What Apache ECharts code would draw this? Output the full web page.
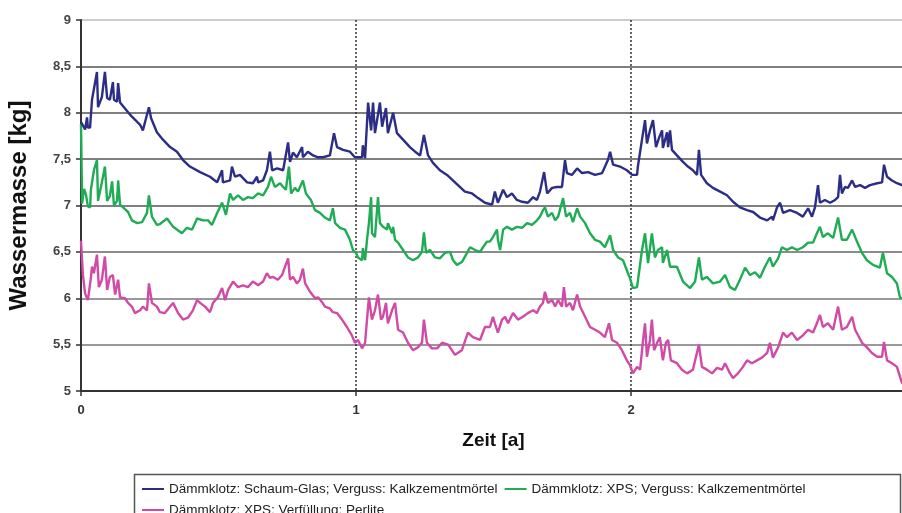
<!DOCTYPE html>
<html>
<head>
<meta charset="utf-8">
<script src="https://cdn.jsdelivr.net/npm/echarts@6/dist/echarts.min.js"></script>
<style>
  html, body { margin: 0; padding: 0; background: #ffffff; }
  #chart { width: 902px; height: 513px; }
</style>
</head>
<body>
<div id="chart"></div>
<script>
// Water mass [kg] over time [years] for three insulation block variants.
const seriesNames = [
  'Dämmklotz: Schaum-Glas; Verguss: Kalkzementmörtel',
  'Dämmklotz: XPS; Verguss: Kalkzementmörtel',
  'Dämmklotz: XPS; Verfüllung: Perlite'
];

// [time in years, water mass in kg]
const schaumGlas = [
  [0,7.90],[0.004,7.89],[0.015,7.82],[0.022,7.95],[0.025,7.84],[0.033,7.84],[0.04,8.14],[0.058,8.44],
  [0.062,8.06],[0.076,8.17],[0.087,8.44],[0.095,8.16],[0.105,8.14],[0.116,8.33],[0.12,8.14],[0.131,8.12],
  [0.135,8.32],[0.142,8.11],[0.178,7.98],[0.215,7.87],[0.225,7.81],[0.247,8.06],[0.255,7.94],[0.276,7.79],
  [0.298,7.71],[0.324,7.63],[0.349,7.58],[0.371,7.49],[0.396,7.42],[0.433,7.36],[0.469,7.31],[0.495,7.25],
  [0.513,7.38],[0.516,7.25],[0.542,7.27],[0.549,7.42],[0.56,7.31],[0.578,7.33],[0.604,7.25],[0.625,7.24],
  [0.64,7.31],[0.644,7.25],[0.662,7.27],[0.676,7.38],[0.687,7.58],[0.695,7.38],[0.713,7.40],[0.735,7.38],
  [0.753,7.68],[0.76,7.47],[0.771,7.57],[0.785,7.52],[0.804,7.63],[0.807,7.52],[0.825,7.58],[0.844,7.54],
  [0.862,7.52],[0.88,7.52],[0.905,7.54],[0.92,7.78],[0.931,7.63],[0.953,7.60],[0.978,7.58],[0.996,7.52],
  [1.022,7.52],[1.025,7.65],[1.033,7.51],[1.04,7.89],[1.044,8.11],[1.055,7.81],[1.062,8.11],[1.069,7.78],
  [1.087,8.11],[1.095,7.85],[1.109,8.05],[1.116,7.78],[1.135,8.00],[1.149,7.78],[1.171,7.71],[1.196,7.63],
  [1.215,7.58],[1.233,7.54],[1.247,7.76],[1.262,7.54],[1.28,7.46],[1.305,7.38],[1.331,7.33],[1.36,7.25],
  [1.396,7.15],[1.422,7.13],[1.444,7.08],[1.469,7.03],[1.495,7.01],[1.505,7.15],[1.516,7.03],[1.535,7.17],
  [1.549,7.09],[1.567,7.13],[1.585,7.06],[1.604,7.04],[1.625,7.03],[1.644,7.09],[1.658,7.06],[1.669,7.15],
  [1.684,7.36],[1.695,7.13],[1.713,7.19],[1.731,7.20],[1.749,7.20],[1.76,7.49],[1.767,7.35],[1.785,7.33],
  [1.804,7.40],[1.822,7.35],[1.844,7.36],[1.869,7.33],[1.895,7.35],[1.916,7.49],[1.924,7.58],[1.935,7.44],
  [1.96,7.42],[1.985,7.38],[2.004,7.33],[2.022,7.33],[2.025,7.42],[2.04,7.71],[2.051,7.92],[2.058,7.67],
  [2.069,7.81],[2.08,7.92],[2.091,7.63],[2.102,7.73],[2.113,7.81],[2.116,7.62],[2.131,7.79],[2.135,7.63],
  [2.142,7.81],[2.149,7.60],[2.167,7.54],[2.189,7.47],[2.207,7.42],[2.225,7.38],[2.24,7.33],[2.247,7.60],
  [2.255,7.33],[2.276,7.24],[2.298,7.19],[2.324,7.15],[2.349,7.11],[2.371,7.04],[2.396,6.98],[2.422,6.95],
  [2.444,6.93],[2.469,6.87],[2.495,6.84],[2.513,6.88],[2.516,6.84],[2.531,6.98],[2.542,7.03],[2.553,6.92],
  [2.578,6.95],[2.604,6.92],[2.625,6.88],[2.644,6.97],[2.658,6.88],[2.669,6.98],[2.68,7.22],[2.687,7.03],
  [2.705,7.06],[2.724,7.03],[2.742,7.06],[2.753,7.09],[2.76,7.33],[2.767,7.13],[2.778,7.20],[2.789,7.19],
  [2.804,7.27],[2.815,7.20],[2.833,7.22],[2.851,7.19],[2.869,7.22],[2.895,7.24],[2.913,7.25],[2.92,7.44],
  [2.931,7.31],[2.949,7.27],[2.967,7.24],[2.985,7.22],[3.0,7.21]
];

const xpsVerguss = [
  [0,7.88],[0.004,7.02],[0.011,7.18],[0.018,7.12],[0.025,6.99],[0.033,6.98],[0.036,7.17],[0.047,7.38],
  [0.058,7.49],[0.062,7.05],[0.069,7.06],[0.076,7.25],[0.087,7.42],[0.095,7.05],[0.105,7.10],[0.113,7.26],
  [0.12,7.00],[0.131,7.05],[0.135,7.27],[0.142,7.01],[0.16,6.96],[0.171,6.93],[0.185,6.84],[0.204,6.81],
  [0.222,6.82],[0.24,6.92],[0.247,7.11],[0.258,6.88],[0.276,6.79],[0.287,6.80],[0.313,6.86],[0.335,6.77],
  [0.367,6.70],[0.385,6.76],[0.404,6.74],[0.422,6.86],[0.444,6.84],[0.462,6.84],[0.476,6.79],[0.495,6.92],
  [0.513,7.03],[0.527,6.90],[0.542,7.13],[0.553,7.06],[0.571,7.11],[0.589,7.06],[0.607,7.09],[0.625,7.08],
  [0.644,7.13],[0.662,7.11],[0.68,7.20],[0.691,7.31],[0.705,7.20],[0.724,7.24],[0.735,7.20],[0.745,7.17],
  [0.756,7.42],[0.764,7.13],[0.778,7.19],[0.789,7.15],[0.807,7.27],[0.818,7.13],[0.836,7.06],[0.851,6.95],
  [0.869,6.92],[0.887,6.87],[0.905,6.84],[0.916,6.97],[0.924,6.81],[0.942,6.76],[0.96,6.74],[0.978,6.63],
  [0.989,6.52],[1.0,6.49],[1.007,6.44],[1.022,6.41],[1.025,6.54],[1.033,6.41],[1.04,6.63],[1.047,6.81],
  [1.055,7.09],[1.058,6.70],[1.069,6.66],[1.08,7.09],[1.087,6.81],[1.098,6.77],[1.113,6.74],[1.116,6.81],
  [1.131,6.70],[1.135,6.77],[1.142,6.63],[1.153,6.60],[1.171,6.52],[1.189,6.44],[1.207,6.41],[1.225,6.44],
  [1.24,6.50],[1.247,6.71],[1.255,6.49],[1.269,6.52],[1.287,6.44],[1.305,6.43],[1.324,6.49],[1.342,6.50],
  [1.353,6.41],[1.367,6.36],[1.385,6.39],[1.404,6.49],[1.415,6.55],[1.433,6.52],[1.451,6.50],[1.462,6.55],
  [1.476,6.61],[1.487,6.61],[1.498,6.66],[1.513,6.74],[1.516,6.63],[1.524,6.52],[1.535,6.74],[1.549,6.77],
  [1.567,6.74],[1.585,6.77],[1.604,6.76],[1.622,6.81],[1.64,6.79],[1.658,6.84],[1.669,6.88],[1.68,6.95],
  [1.687,6.98],[1.698,6.88],[1.713,6.92],[1.724,6.84],[1.735,6.88],[1.753,7.08],[1.764,6.88],[1.778,6.92],
  [1.789,6.82],[1.804,6.97],[1.815,6.88],[1.833,6.81],[1.851,6.70],[1.869,6.63],[1.887,6.61],[1.905,6.55],
  [1.924,6.68],[1.935,6.52],[1.953,6.44],[1.971,6.41],[1.989,6.27],[1.996,6.22],[2.007,6.11],[2.022,6.12],
  [2.025,6.14],[2.04,6.52],[2.051,6.70],[2.062,6.38],[2.076,6.70],[2.087,6.44],[2.098,6.52],[2.113,6.55],
  [2.116,6.38],[2.131,6.52],[2.142,6.34],[2.167,6.34],[2.189,6.18],[2.215,6.11],[2.233,6.18],[2.247,6.44],
  [2.258,6.20],[2.276,6.23],[2.298,6.16],[2.324,6.18],[2.342,6.25],[2.36,6.12],[2.378,6.09],[2.396,6.20],
  [2.415,6.33],[2.433,6.25],[2.451,6.28],[2.469,6.22],[2.487,6.34],[2.505,6.44],[2.516,6.34],[2.535,6.43],
  [2.549,6.55],[2.567,6.52],[2.585,6.55],[2.604,6.52],[2.625,6.55],[2.644,6.60],[2.662,6.60],[2.676,6.70],
  [2.687,6.77],[2.698,6.66],[2.716,6.70],[2.735,6.65],[2.753,6.87],[2.767,6.63],[2.785,6.63],[2.804,6.74],
  [2.822,6.61],[2.84,6.49],[2.858,6.41],[2.88,6.36],[2.905,6.33],[2.916,6.49],[2.931,6.27],[2.949,6.23],
  [2.967,6.16],[2.978,6.01],[3.0,5.98]
];

const xpsPerlite = [
  [0,6.62],[0.007,6.25],[0.015,6.05],[0.025,5.98],[0.036,6.22],[0.04,6.34],[0.047,6.27],[0.058,6.47],
  [0.065,6.12],[0.076,6.20],[0.087,6.45],[0.095,6.09],[0.105,6.23],[0.116,6.25],[0.124,6.04],[0.135,6.20],
  [0.142,6.01],[0.16,6.00],[0.171,5.95],[0.185,5.91],[0.196,5.84],[0.215,5.87],[0.225,5.91],[0.24,5.87],
  [0.247,6.16],[0.258,5.95],[0.276,5.91],[0.287,5.85],[0.305,5.84],[0.324,5.91],[0.335,5.95],[0.353,5.84],
  [0.371,5.77],[0.389,5.79],[0.407,5.87],[0.422,5.98],[0.433,5.95],[0.451,5.91],[0.469,5.85],[0.48,5.95],
  [0.498,6.01],[0.513,6.11],[0.524,5.98],[0.535,6.09],[0.553,6.18],[0.571,6.12],[0.589,6.14],[0.607,6.12],
  [0.625,6.18],[0.644,6.14],[0.662,6.18],[0.676,6.27],[0.687,6.22],[0.698,6.23],[0.716,6.20],[0.731,6.25],
  [0.742,6.34],[0.753,6.43],[0.76,6.20],[0.771,6.23],[0.785,6.16],[0.796,6.20],[0.807,6.32],[0.815,6.16],
  [0.833,6.07],[0.851,6.00],[0.862,6.01],[0.876,5.96],[0.887,5.91],[0.905,5.89],[0.916,5.85],[0.931,5.84],
  [0.949,5.77],[0.967,5.69],[0.985,5.60],[0.996,5.52],[1.007,5.55],[1.022,5.46],[1.033,5.52],[1.04,5.77],
  [1.047,6.01],[1.058,5.77],[1.069,5.87],[1.08,6.04],[1.091,5.77],[1.098,5.80],[1.109,5.95],[1.116,5.73],
  [1.131,5.87],[1.142,5.95],[1.153,5.66],[1.171,5.63],[1.189,5.52],[1.207,5.44],[1.225,5.47],[1.24,5.52],
  [1.247,5.77],[1.258,5.52],[1.276,5.46],[1.295,5.46],[1.313,5.52],[1.335,5.50],[1.36,5.39],[1.385,5.44],
  [1.407,5.63],[1.425,5.58],[1.451,5.55],[1.469,5.69],[1.487,5.69],[1.498,5.80],[1.505,5.73],[1.516,5.63],
  [1.531,5.77],[1.542,5.80],[1.553,5.73],[1.571,5.84],[1.589,5.77],[1.607,5.80],[1.625,5.84],[1.644,5.87],
  [1.658,5.84],[1.669,5.91],[1.68,5.95],[1.687,6.07],[1.698,5.95],[1.713,5.98],[1.724,5.91],[1.735,5.98],
  [1.749,5.91],[1.756,6.12],[1.764,5.91],[1.778,5.95],[1.789,5.87],[1.804,6.04],[1.815,5.91],[1.833,5.80],
  [1.851,5.69],[1.869,5.66],[1.887,5.63],[1.905,5.58],[1.92,5.73],[1.931,5.55],[1.949,5.52],[1.967,5.44],
  [1.985,5.33],[1.996,5.28],[2.007,5.19],[2.022,5.26],[2.033,5.23],[2.044,5.55],[2.051,5.73],[2.058,5.37],
  [2.069,5.55],[2.076,5.77],[2.084,5.44],[2.095,5.52],[2.105,5.58],[2.116,5.33],[2.127,5.52],[2.135,5.55],
  [2.145,5.33],[2.167,5.30],[2.185,5.23],[2.204,5.19],[2.225,5.23],[2.247,5.50],[2.258,5.26],[2.276,5.23],
  [2.295,5.19],[2.313,5.25],[2.331,5.23],[2.342,5.30],[2.36,5.19],[2.371,5.14],[2.389,5.19],[2.407,5.26],
  [2.422,5.33],[2.44,5.30],[2.458,5.33],[2.476,5.36],[2.495,5.41],[2.505,5.52],[2.516,5.36],[2.535,5.47],
  [2.553,5.63],[2.567,5.58],[2.585,5.63],[2.604,5.55],[2.625,5.60],[2.644,5.66],[2.662,5.63],[2.676,5.73],
  [2.687,5.82],[2.698,5.69],[2.716,5.73],[2.735,5.66],[2.753,5.91],[2.767,5.66],[2.785,5.69],[2.804,5.80],
  [2.815,5.66],[2.84,5.52],[2.858,5.47],[2.876,5.41],[2.895,5.37],[2.913,5.37],[2.92,5.53],[2.931,5.33],
  [2.949,5.30],[2.967,5.26],[2.985,5.09],[3.0,5.05]
];

const xTicks = { min: 0, max: 3, step: 1 };
const yTicks = { min: 5, max: 9, step: 0.5 };

const lineColors = ['#2c2d86', '#1fac55', '#d14aa6'];
const seriesData = [schaumGlas, xpsVerguss, xpsPerlite];

const chart = echarts.init(document.getElementById('chart'), null, { renderer: 'canvas' });

const fontFamily = '"Liberation Sans", Arial, sans-serif';

chart.setOption({
  animation: false,
  backgroundColor: '#ffffff',
  // the plot runs slightly past the right edge of the canvas (x = 3 sits just outside)
  grid: { left: 81, width: 825, top: 20, height: 371, containLabel: false, outerBoundsMode: 'none' },
  legend: {
    data: seriesNames,
    left: 137,
    top: 477,
    width: 720,
    orient: 'horizontal',
    icon: 'rect',
    itemWidth: 22,
    itemHeight: 2,
    itemGap: 7,
    textStyle: { fontSize: 13.5, fontFamily: fontFamily, color: '#222', lineHeight: 14 }
  },
  graphic: [{
    type: 'rect',
    shape: { x: 134.5, y: 474.5, width: 766, height: 60 },
    style: { fill: 'none', stroke: '#555', lineWidth: 1.5 },
    silent: true,
    z: -1
  }],
  xAxis: {
    type: 'value',
    min: xTicks.min,
    max: xTicks.max,
    interval: xTicks.step,
    name: 'Zeit [a]',
    nameLocation: 'middle',
    nameGap: 40,
    nameTextStyle: { fontSize: 19, fontWeight: 'bold', fontFamily: fontFamily, color: '#111' },
    axisLine: { show: true, onZero: false, lineStyle: { color: '#333', width: 2 } },
    axisTick: { show: true, length: 5, lineStyle: { color: '#333', width: 1.5 } },
    axisLabel: { fontSize: 13, fontWeight: 'bold', fontFamily: fontFamily, color: '#333', margin: 13 },
    splitLine: { show: true, lineStyle: { color: '#333', width: 1.5, type: [2, 2] } }
  },
  yAxis: {
    type: 'value',
    min: yTicks.min,
    max: yTicks.max,
    interval: yTicks.step,
    name: 'Wassermasse [kg]',
    nameLocation: 'middle',
    nameGap: 50,
    nameTextStyle: { fontSize: 24, fontWeight: 'bold', fontFamily: fontFamily, color: '#111' },
    axisLine: { show: true, onZero: false, lineStyle: { color: '#333', width: 2 } },
    axisTick: { show: true, length: 5, lineStyle: { color: '#333', width: 1.5 } },
    axisLabel: {
      fontSize: 13, fontWeight: 'bold', fontFamily: fontFamily, color: '#444', margin: 10,
      formatter: v => String(v).replace('.', ',')
    },
    splitLine: {
      show: true,
      lineStyle: {
        color: ['#333', '#777', '#777', '#666', '#555', '#555', '#555', '#555', '#bbb'],
        width: 1.5
      }
    }
  },
  series: seriesNames.map((name, i) => ({
    name: name,
    type: 'line',
    data: seriesData[i],
    showSymbol: false,
    symbol: 'none',
    smooth: false,
    lineStyle: { color: lineColors[i], width: 2.4 },
    itemStyle: { color: lineColors[i] },
    z: 3 - i
  }))
});
</script>
</body>
</html>
